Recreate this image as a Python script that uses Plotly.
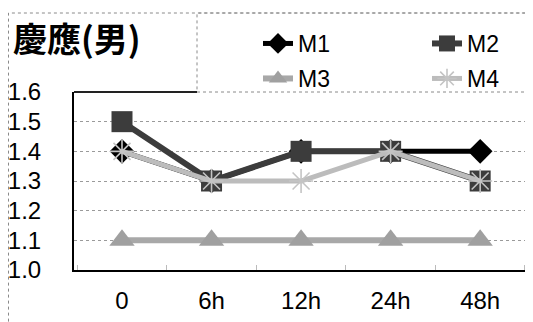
import plotly.graph_objects as go

# data
times = ["0", "6h", "12h", "24h", "48h"]
m1 = [1.4, 1.3, 1.4, 1.4, 1.4]
m2 = [1.5, 1.3, 1.4, 1.4, 1.3]
m3 = [1.1, 1.1, 1.1, 1.1, 1.1]
m4 = [1.4, 1.3, 1.3, 1.4, 1.3]
y_ticks = [1.0, 1.1, 1.2, 1.3, 1.4, 1.5, 1.6]

# the page body has an 8px margin, so the figure is drawn 8px smaller
# and every position below is given in reference pixels minus that offset
OFF = 8
W, H = 533 - OFF, 322 - OFF
L, T, B = 74 - OFF, 92 - OFF, 322 - 270
PW, PH = W - L, H - T - B


def px_x(v):
    return (v - OFF - L) / PW


def px_y(v):
    return (H - B - (v - OFF)) / PH


FONT = "Liberation Sans, Arial, sans-serif"

# name, values, line colour, line width, marker, legend id, legend pos (ref px)
series = [
    ("M1", m1, "#000000", 5, dict(symbol="diamond", size=19, color="#000000"),
     "legend", (258, 22)),
    ("M2", m2, "#3c3c3c", 6, dict(symbol="square", size=21, color="#3c3c3c"),
     "legend2", (427, 22)),
    ("M3", m3, "#a8a8a8", 6, dict(symbol="triangle-up", size=22, color="#a0a0a0"),
     "legend3", (258, 57)),
    ("M4", m4, "#bcbcbc", 5, dict(symbol="asterisk-open", size=20, color="#c4c4c4",
                                   line=dict(width=1.6, color="#c4c4c4")),
     "legend4", (427, 57)),
]

fig = go.Figure()
legends = {}
for name, vals, col, lw, mk, lg, pos in series:
    fig.add_trace(go.Scatter(
        x=times, y=vals, name=name, mode="lines+markers",
        line=dict(color=col, width=lw), marker=mk, legend=lg,
        showlegend=True,
    ))
    legends[lg] = dict(
        x=px_x(pos[0]), y=px_y(pos[1]), xanchor="left", yanchor="top",
        orientation="h", visible=True,
        font=dict(family=FONT, size=23, color="#000"),
        bgcolor="rgba(0,0,0,0)",
        itemclick=False, itemdoubleclick=False,
    )

fig.update_layout(
    width=W, height=H, showlegend=True,
    margin=dict(l=L, r=0, t=T, b=B, autoexpand=False),
    paper_bgcolor="white", plot_bgcolor="white",
    font=dict(family=FONT, size=24, color="#000"),
    annotations=[dict(
        text="<b>慶應(男)</b>", xref="paper", yref="paper",
        x=px_x(11), y=px_y(37), xanchor="left", yanchor="middle",
        showarrow=False,
        font=dict(family="Noto Sans CJK JP", size=34, color="#000"),
    )],
    shapes=[
        # outer dotted frame
        dict(type="rect", xref="paper", yref="paper",
             x0=px_x(8.5), x1=1.2, y0=-0.6, y1=px_y(13),
             line=dict(color="#8a8a8a", width=1, dash="dot")),
        # legend box
        dict(type="rect", xref="paper", yref="paper",
             x0=px_x(197), x1=1.2, y0=1.0, y1=px_y(13),
             line=dict(color="#8a8a8a", width=1, dash="dot")),
        # plot top border left of legend box
        dict(type="line", xref="paper", yref="paper",
             x0=0, x1=px_x(197), y0=1.0, y1=1.0,
             line=dict(color="#222", width=2)),
    ],
    **legends,
)

fig.update_xaxes(
    type="category", range=[-0.536, 4.59],
    showgrid=False, showline=True, linecolor="#000", linewidth=2,
    ticks="inside", tickson="boundaries", ticklen=5, tickcolor="#bbbbbb",
    ticklabelstandoff=8, tickfont=dict(size=24),
)
fig.update_yaxes(
    range=[1.0, 1.6], tickvals=y_ticks, tickformat=".1f",
    showgrid=True, gridcolor="#9a9a9a", griddash="dot", gridwidth=1,
    showline=True, linecolor="#000", linewidth=2,
    ticks="", ticklabelstandoff=26, tickfont=dict(size=24), zeroline=False,
)

fig.write_html("out.html")
